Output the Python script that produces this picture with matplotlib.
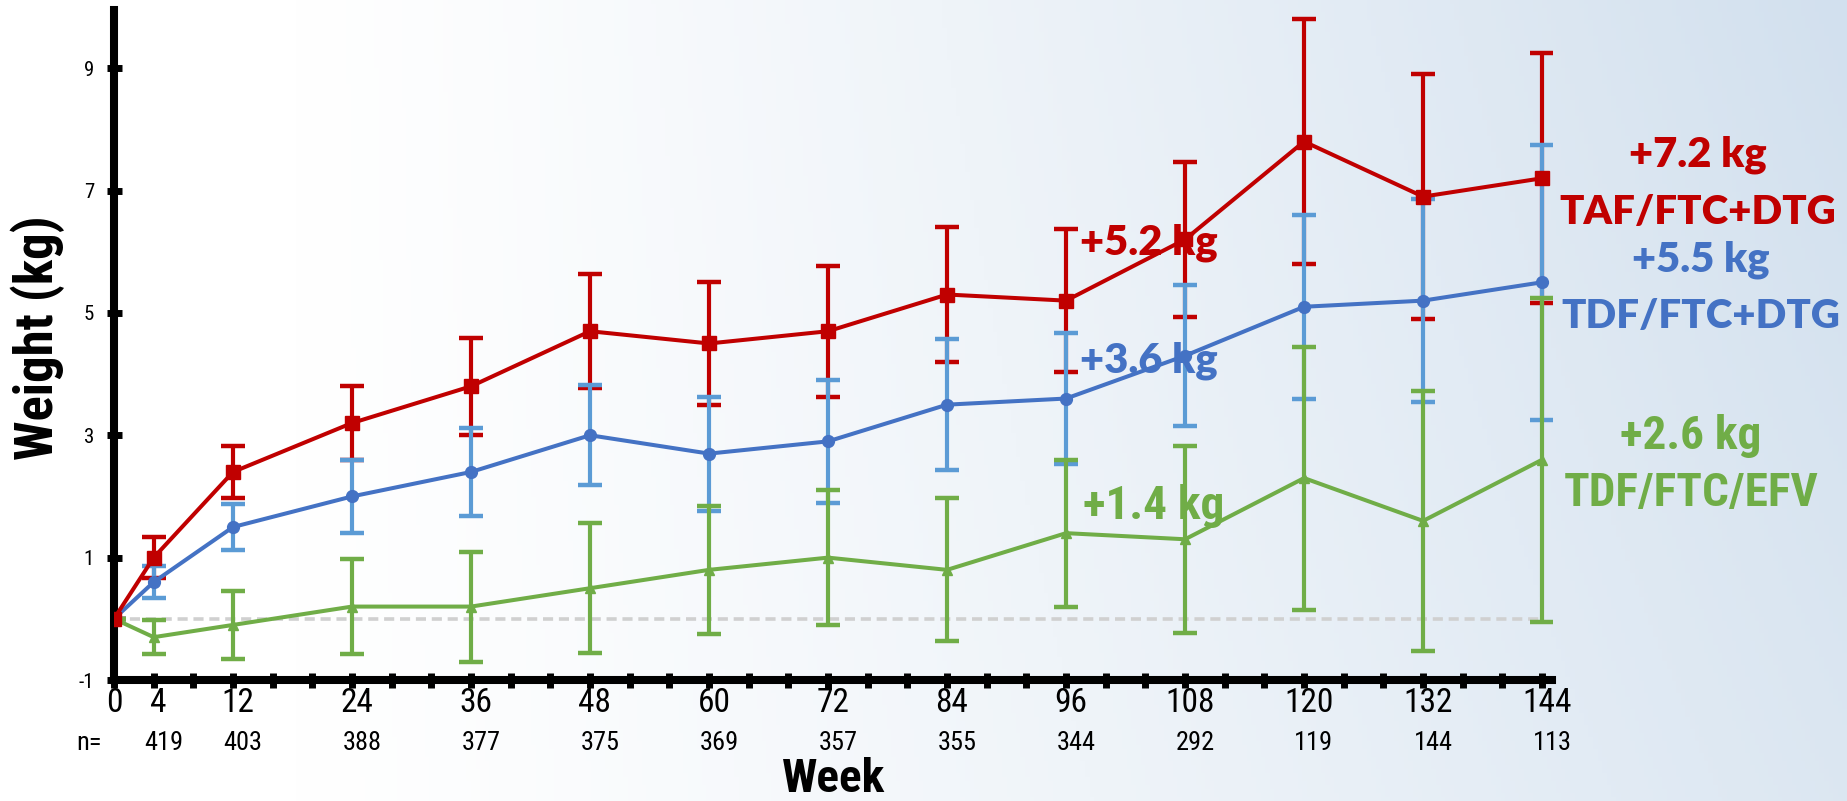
import numpy as np
import matplotlib
matplotlib.use('Agg')
import matplotlib.pyplot as plt
import matplotlib.transforms as mtransforms
from matplotlib.colors import LinearSegmentedColormap

# weeks and number of patients
weeks = [0, 4, 12, 24, 36, 48, 60, 72, 84, 96, 108, 120, 132, 144]
week_labels = [0, 4, 12, 24, 36, 48, 60, 72, 84, 96, 108, 120, 132, 144]
n_counts = ['419', '403', '388', '377', '375', '369', '357', '355', '344', '292', '119', '144', '113']

# mean weight change (kg) and error bar half-widths
taf_mean = [0, 1.0, 2.4, 3.2, 3.8, 4.7, 4.5, 4.7, 5.3, 5.2, 6.2, 7.8, 6.9, 7.2]
taf_err = [0, 0.33, 0.43, 0.6, 0.79, 0.93, 1.0, 1.07, 1.1, 1.17, 1.26, 2.0, 2.0, 2.04]
tdf_dtg_mean = [0, 0.6, 1.5, 2.0, 2.4, 3.0, 2.7, 2.9, 3.5, 3.6, 4.3, 5.1, 5.2, 5.5]
tdf_dtg_err = [0, 0.26, 0.38, 0.6, 0.72, 0.82, 0.93, 1.0, 1.07, 1.07, 1.15, 1.5, 1.66, 2.25]
efv_mean = [0, -0.3, -0.1, 0.2, 0.2, 0.5, 0.8, 1.0, 0.8, 1.4, 1.3, 2.3, 1.6, 2.6]
efv_err = [0, 0.28, 0.55, 0.77, 0.9, 1.06, 1.05, 1.1, 1.17, 1.2, 1.53, 2.15, 2.13, 2.65]

RED = '#C00000'
BLUE = '#4472C4'
BLUE_ERR = '#5B9BD5'
GREEN = '#70AD47'

narrow = ['Liberation Sans Narrow', 'Roboto Condensed', 'Open Sans Condensed', 'DejaVu Sans']
calib = ['Lato', 'DejaVu Sans']
NS = 'condensed'

fig = plt.figure(figsize=(18.47, 8.01), dpi=100)

# light gradient background like the slide
bg = fig.add_axes([0, 0, 1, 1], zorder=-10)
xx, yy = np.meshgrid(np.linspace(0, 1, 400), np.linspace(0, 1, 200))
t = np.clip((xx - 0.15) / 0.85, 0, 1) ** 1.2 * (0.78 + 0.22 * yy)
cmap = LinearSegmentedColormap.from_list('bg', ['#FFFFFF', '#D2E0EE'])
bg.imshow(t, cmap=cmap, origin='lower', extent=[0, 1, 0, 1], aspect='auto', vmin=0, vmax=1)
bg.axis('off')

ax = fig.add_axes([114 / 1847, 121 / 801, 1438 / 1847, 670 / 801])
ax.patch.set_alpha(0)

ax.axhline(0, xmin=0, xmax=144 / 145, color='#D0D0D0', lw=2.6, ls=(0, (2.8, 1.6)), zorder=1)

ekw = dict(fmt='none', elinewidth=3, capsize=8.5, capthick=3.2)
ax.errorbar(weeks, taf_mean, yerr=taf_err, ecolor=RED, zorder=2, **ekw)
ax.errorbar(weeks, tdf_dtg_mean, yerr=tdf_dtg_err, ecolor=BLUE_ERR, zorder=3, **ekw)
ax.errorbar(weeks, efv_mean, yerr=efv_err, ecolor=GREEN, zorder=4, **ekw)

ax.plot(weeks, efv_mean, color=GREEN, lw=2.9, marker='^', ms=7.5, zorder=5)
ax.plot(weeks, tdf_dtg_mean, color=BLUE, lw=2.9, marker='o', ms=8.5, zorder=6)
ax.plot(weeks, taf_mean, color=RED, lw=2.9, marker='s', ms=9.5, zorder=7)

ax.set_xlim(0, 145)
ax.set_ylim(-1, 9.95)

for s in ['top', 'right']:
    ax.spines[s].set_visible(False)
for s in ['left', 'bottom']:
    ax.spines[s].set_linewidth(5.8)
    ax.spines[s].set_color('black')

ax.set_xticks(week_labels)
ax.set_xticklabels([str(w) for w in week_labels], fontfamily=narrow, fontstretch=NS, fontsize=24)
ax.set_xticks(np.arange(0, 145, 4), minor=True)
ax.set_yticks([-1, 1, 3, 5, 7, 9])
ax.set_yticklabels(['-1', '1', '3', '5', '7', '9'], fontfamily=narrow, fontstretch=NS, fontsize=15)
ax.tick_params(axis='x', which='both', direction='inout', length=10.8, width=5, pad=0)
ax.tick_params(axis='y', direction='inout', length=10.8, width=5, pad=9)

# labels sit a little right of their ticks in the original
shift = mtransforms.ScaledTranslation(3.5 / 72, 0, fig.dpi_scale_trans)
for lab in ax.get_xticklabels()[1:]:
    lab.set_transform(lab.get_transform() + shift)

# n= row under the axis
for w, n in zip(weeks[1:], n_counts):
    ax.text(w + 1, -2.03, n, ha='center', va='center', fontfamily=narrow, fontstretch=NS,
            fontsize=19, clip_on=False)
ax.text(-2.5, -2.03, 'n=', ha='center', va='center', fontfamily=narrow, fontstretch=NS,
        fontsize=19, clip_on=False)

fig.text(834 / 1847, 9 / 801, 'Week', ha='center', va='baseline', fontfamily=narrow,
         fontstretch=NS, fontweight='bold', fontsize=34)
fig.text(38 / 1847, 463 / 801, 'Weight (kg)', ha='center', va='center', rotation=90,
         fontfamily=narrow, fontstretch=NS, fontweight='bold', fontsize=38)

# annotations
ax.text(97.4, 5.96, '+5.2 kg', color=RED, fontfamily=calib, fontweight='heavy', fontsize=30,
        ha='left', va='baseline', zorder=8)
ax.text(97.4, 4.03, '+3.6 kg', color=BLUE, fontfamily=calib, fontweight='heavy', fontsize=30,
        ha='left', va='baseline', zorder=8)
ax.text(97.7, 1.63, '+1.4 kg', color=GREEN, fontfamily=narrow, fontstretch=NS, fontweight='bold',
        fontsize=34, ha='left', va='baseline', zorder=8)

ax.text(159.7, 7.39, '+7.2 kg', color=RED, fontfamily=calib, fontweight='heavy', fontsize=30,
        ha='center', va='baseline', clip_on=False)
ax.text(159.7, 6.45, 'TAF/FTC+DTG', color=RED, fontfamily=calib, fontweight='heavy', fontsize=29,
        ha='center', va='baseline', clip_on=False)
ax.text(160.0, 5.68, '+5.5 kg', color=BLUE, fontfamily=calib, fontweight='heavy', fontsize=30,
        ha='center', va='baseline', clip_on=False)
ax.text(160.0, 4.76, 'TDF/FTC+DTG', color=BLUE, fontfamily=calib, fontweight='heavy', fontsize=29,
        ha='center', va='baseline', clip_on=False)
ax.text(159.0, 2.77, '+2.6 kg', color=GREEN, fontfamily=narrow, fontstretch=NS, fontweight='bold',
        fontsize=34, ha='center', va='baseline', clip_on=False)
ax.text(159.0, 1.84, 'TDF/FTC/EFV', color=GREEN, fontfamily=narrow, fontstretch=NS,
        fontweight='bold', fontsize=34, ha='center', va='baseline', clip_on=False)

fig.savefig('out.png', dpi=100)
